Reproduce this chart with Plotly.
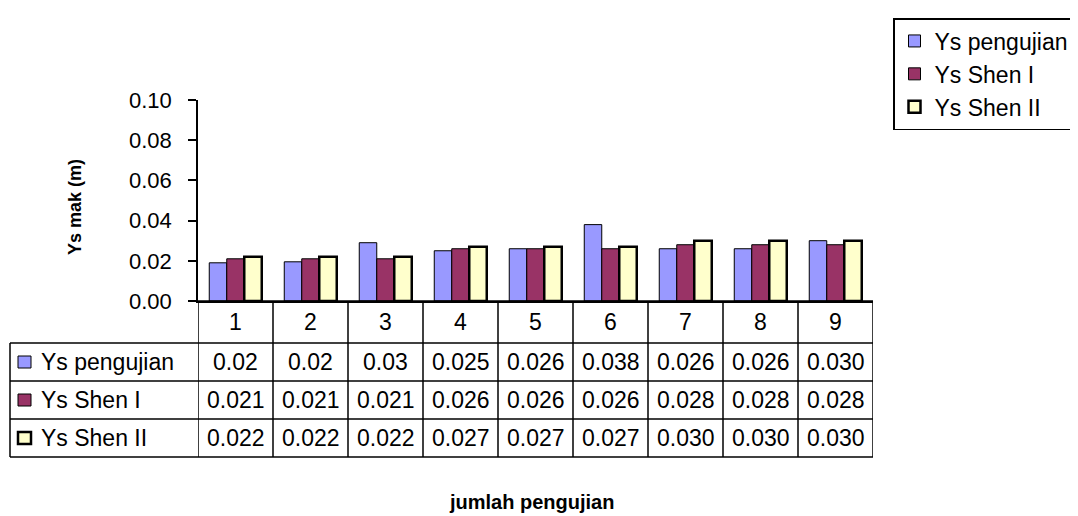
import plotly.graph_objects as go

categories = [1, 2, 3, 4, 5, 6, 7, 8, 9]
cat_labels = ["1", "2", "3", "4", "5", "6", "7", "8", "9"]
series_names = ["Ys pengujian", "Ys Shen I", "Ys Shen II"]
ys_pengujian = [0.019, 0.0195, 0.029, 0.025, 0.026, 0.038, 0.026, 0.026, 0.030]
ys_shen1 = [0.021, 0.021, 0.021, 0.026, 0.026, 0.026, 0.028, 0.028, 0.028]
ys_shen2 = [0.022, 0.022, 0.022, 0.027, 0.027, 0.027, 0.030, 0.030, 0.030]
tbl_pengujian = ["0.02", "0.02", "0.03", "0.025", "0.026", "0.038", "0.026", "0.026", "0.030"]
tbl_shen1 = ["0.021", "0.021", "0.021", "0.026", "0.026", "0.026", "0.028", "0.028", "0.028"]
tbl_shen2 = ["0.022", "0.022", "0.022", "0.027", "0.027", "0.027", "0.030", "0.030", "0.030"]
y_ticks = [0.0, 0.02, 0.04, 0.06, 0.08, 0.10]
y_tick_labels = ["0.00", "0.02", "0.04", "0.06", "0.08", "0.10"]

colors = ["#9999FF", "#993366", "#FFFFCC"]
line_w = [1, 1, 2.5]
values = [ys_pengujian, ys_shen1, ys_shen2]
tables = [tbl_pengujian, tbl_shen1, tbl_shen2]

FONT = "Liberation Sans, Arial, sans-serif"
TS = 23
OFF = 8  # page offset of the figure inside the window
W, H = 1078, 516
ML = 198 - OFF
MT = 100 - OFF
MR = W - (873 - OFF)
MB = H - (301 - OFF)
PW, PH = W - ML - MR, H - MT - MB

def py(ypix):
    return ((H - MB) - (ypix - OFF)) / PH

def pxx(xpix):
    return ((xpix - OFF) - ML) / PW

fig = go.Figure()
for name, vals, col, lw in zip(series_names, values, colors, line_w):
    fig.add_trace(go.Bar(
        x=categories, y=vals, name=name, legendgroup=name,
        marker=dict(color=col, line=dict(color="black", width=lw)),
    ))

shapes = []
annotations = []

row_edges = [301, 343, 381, 419, 457]
y_edges = [py(r) for r in row_edges]
left_x = pxx(10)
LW = 1.5

for i in range(len(categories) + 1):
    xv = categories[0] - 0.5 + i
    shapes.append(dict(type="line", xref="x", yref="paper", x0=xv, x1=xv,
                       y0=y_edges[0], y1=y_edges[-1], line=dict(color="black", width=LW)))
shapes.append(dict(type="line", xref="paper", yref="paper", x0=0, x1=1,
                   y0=y_edges[0], y1=y_edges[0], line=dict(color="black", width=LW)))
for ye in y_edges[1:]:
    shapes.append(dict(type="line", xref="paper", yref="paper", x0=left_x, x1=1,
                       y0=ye, y1=ye, line=dict(color="black", width=LW)))
shapes.append(dict(type="line", xref="paper", yref="paper", x0=left_x, x1=left_x,
                   y0=y_edges[1], y1=y_edges[-1], line=dict(color="black", width=LW)))

def ann(x, y, text, xref="paper", xanchor="center", size=TS, **kw):
    d = dict(x=x, y=y, xref=xref, yref="paper", text=text, showarrow=False,
             xanchor=xanchor, yanchor="middle",
             font=dict(size=size, color="black", family=FONT))
    d.update(kw)
    annotations.append(d)

for c, lab in zip(categories, cat_labels):
    ann(c, (y_edges[0] + y_edges[1]) / 2, lab, xref="x")

for r, (name, tbl, col, lw) in enumerate(zip(series_names, tables, colors, line_w)):
    yc = (y_edges[r + 1] + y_edges[r + 2]) / 2
    ycp = (row_edges[r + 1] + row_edges[r + 2]) / 2
    shapes.append(dict(type="rect", xref="paper", yref="paper",
                       x0=pxx(18), x1=pxx(31),
                       y0=py(ycp + 6), y1=py(ycp - 6),
                       fillcolor=col, line=dict(color="black", width=lw)))
    ann(pxx(39), yc, name, xanchor="left")
    for c, t in zip(categories, tbl):
        ann(c, yc, t, xref="x")

ann(pxx(75), py(207), "<b>Ys mak (m)</b>", size=18, textangle=-90)
ann(pxx(531), py(502), "<b>jumlah pengujian</b>", size=20)

fig.update_layout(
    width=W, height=H,
    margin=dict(l=ML, r=MR, t=MT, b=MB, pad=0, autoexpand=False),
    paper_bgcolor="white", plot_bgcolor="white",
    barmode="group", bargap=0.3, bargroupgap=0,
    font=dict(family=FONT, size=TS, color="black"),
    xaxis=dict(range=[0.5, 9.5], showticklabels=False, ticks="", showgrid=False,
               zeroline=False, showline=True, linecolor="black", linewidth=LW),
    yaxis=dict(range=[0, 0.10], tickvals=y_ticks, ticktext=y_tick_labels, ticks="outside",
               ticklen=8, tickcolor="black", tickwidth=1.5, showgrid=False, zeroline=False,
               showline=True, linecolor="black", linewidth=LW, ticklabelstandoff=12,
               tickfont=dict(size=22, color="black", family=FONT)),
    legend=dict(x=pxx(893), y=py(18), xanchor="left", yanchor="top",
                bordercolor="black", borderwidth=1.5, bgcolor="white",
                font=dict(size=TS, color="black", family=FONT), tracegroupgap=4,
                itemwidth=30, traceorder="normal"),
    shapes=shapes, annotations=annotations,
)

fig.write_html("out.html")
